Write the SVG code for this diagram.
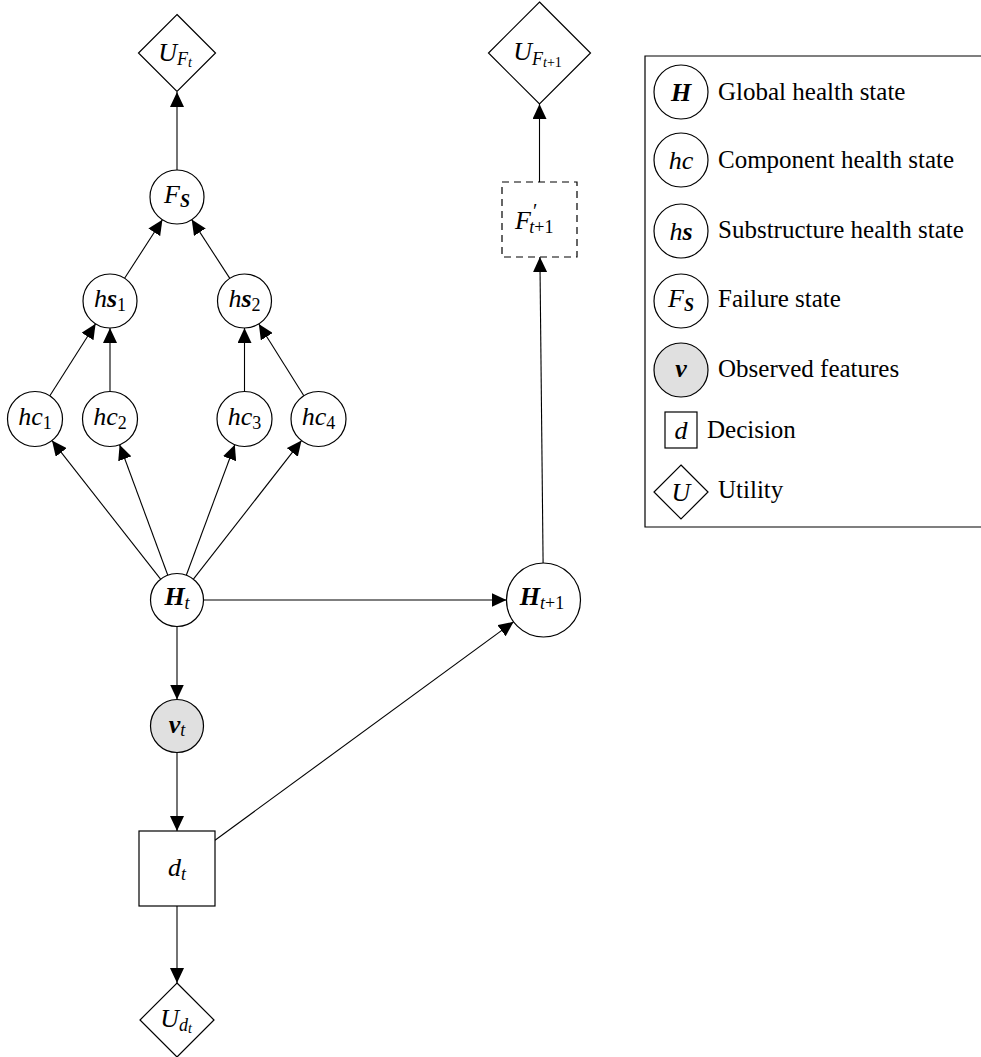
<svg xmlns="http://www.w3.org/2000/svg" width="981" height="1057" viewBox="0 0 981 1057" font-family="'Liberation Serif', 'DejaVu Serif', serif">
<defs>
<marker id="arr" markerUnits="userSpaceOnUse" markerWidth="15" markerHeight="14" refX="15" refY="7" orient="auto">
<path d="M0,0 L15,7 L0,14 z" fill="#000"/>
</marker>
<style>
.n{fill:#fff;stroke:#000;stroke-width:1.2}
.obs{fill:#e0e0e0;stroke:#000;stroke-width:1.2}
.dash{fill:#fff;stroke:#000;stroke-width:1.2;stroke-dasharray:7,5}
.e{stroke:#000;stroke-width:1.1;fill:none;marker-end:url(#arr)}
text{font-family:'Liberation Serif','DejaVu Serif',serif}
.m{font-style:italic;font-size:26px;fill:#000}
.b{font-weight:bold}
.r{font-style:normal}
.s{font-size:18px}
.ss{font-size:14px}
.lt{font-size:25px;fill:#000}
</style>
</defs>
<rect width="981" height="1057" fill="#fff"/>

<g id="connectors">
<line class="e" x1="177" y1="170" x2="177" y2="92"/>
<line class="e" x1="124.6" y1="278.3" x2="162.4" y2="219.7"/>
<line class="e" x1="229.8" y1="278.4" x2="191.7" y2="219.6"/>
<line class="e" x1="49.7" y1="396" x2="95.6" y2="323.8"/>
<line class="e" x1="110" y1="391.5" x2="110" y2="328"/>
<line class="e" x1="244.5" y1="391.5" x2="244.5" y2="328"/>
<line class="e" x1="304" y1="396" x2="258.8" y2="324"/>
<line class="e" x1="160.6" y1="579.2" x2="52" y2="440.6"/>
<line class="e" x1="167.8" y1="575.2" x2="119.6" y2="444.8"/>
<line class="e" x1="186.3" y1="575.2" x2="234.8" y2="444.7"/>
<line class="e" x1="193.4" y1="579.2" x2="301.5" y2="440.6"/>
<line class="e" x1="203.5" y1="600" x2="506.5" y2="600"/>
<line class="e" x1="177" y1="626.5" x2="177" y2="699.5"/>
<line class="e" x1="177" y1="752.5" x2="177" y2="831"/>
<line class="e" x1="177" y1="906" x2="177" y2="983"/>
<line class="e" x1="215" y1="840.2" x2="513.6" y2="621.8"/>
<line class="e" x1="543.1" y1="563" x2="539.9" y2="257"/>
<line class="e" x1="539.5" y1="182" x2="539.5" y2="104"/>
</g>

<g id="UFt">
<polygon class="n" points="177,14.5 215.5,53 177,91.5 138.5,53"/>
<text class="m" x="175" y="61" text-anchor="middle">U<tspan class="s" dy="3.5">F</tspan><tspan class="ss" dy="2.5">t</tspan></text>
</g>
<g id="FS">
<circle class="n" cx="177" cy="197" r="27"/>
<text class="m" x="177" y="203" text-anchor="middle">F<tspan class="s b" dy="4">S</tspan></text>
</g>
<g id="hs1">
<circle class="n" cx="110" cy="301" r="27"/>
<text class="m" x="110" y="307" text-anchor="middle">h<tspan class="b">s</tspan><tspan class="s r" dy="4">1</tspan></text>
</g>
<g id="hs2">
<circle class="n" cx="244.5" cy="301" r="27"/>
<text class="m" x="244.5" y="307" text-anchor="middle">h<tspan class="b">s</tspan><tspan class="s r" dy="4">2</tspan></text>
</g>
<g id="hc1">
<circle class="n" cx="35" cy="419" r="27.5"/>
<text class="m" x="35" y="425" text-anchor="middle">hc<tspan class="s r" dy="4">1</tspan></text>
</g>
<g id="hc2">
<circle class="n" cx="110" cy="419" r="27.5"/>
<text class="m" x="110" y="425" text-anchor="middle">hc<tspan class="s r" dy="4">2</tspan></text>
</g>
<g id="hc3">
<circle class="n" cx="244.5" cy="419" r="27.5"/>
<text class="m" x="244.5" y="425" text-anchor="middle">hc<tspan class="s r" dy="4">3</tspan></text>
</g>
<g id="hc4">
<circle class="n" cx="318.5" cy="419" r="27.5"/>
<text class="m" x="318.5" y="425" text-anchor="middle">hc<tspan class="s r" dy="4">4</tspan></text>
</g>
<g id="Ht">
<circle class="n" cx="177" cy="600" r="26.5"/>
<text class="m" x="177" y="605" text-anchor="middle"><tspan class="b">H</tspan><tspan class="s" dy="4">t</tspan></text>
</g>
<g id="nut">
<circle class="obs" cx="177" cy="726" r="26.5"/>
<text class="m" x="177" y="733" text-anchor="middle"><tspan class="b">ν</tspan><tspan class="s" dy="3">t</tspan></text>
</g>
<g id="dt">
<rect class="n" x="139" y="831" width="76" height="75"/>
<text class="m" x="177" y="876" text-anchor="middle">d<tspan class="s" dy="4">t</tspan></text>
</g>
<g id="Udt">
<polygon class="n" points="177,983 214,1020 177,1057 140,1020"/>
<text class="m" x="176" y="1027" text-anchor="middle">U<tspan class="s" dy="3.5">d</tspan><tspan class="ss" dy="2.5">t</tspan></text>
</g>
<g id="Ht1">
<circle class="n" cx="543.5" cy="600" r="37"/>
<text class="m" x="542" y="605" text-anchor="middle"><tspan class="b">H</tspan><tspan class="s" dy="4">t</tspan><tspan class="s r">+1</tspan></text>
</g>
<g id="Fprime">
<rect class="dash" x="502" y="182" width="75" height="75"/>
<text class="m" x="515" y="229">F<tspan class="r" font-size="20" dx="2" dy="-11">′</tspan><tspan class="s" dx="-8" dy="15">t</tspan><tspan class="s r">+1</tspan></text>
</g>
<g id="UFt1">
<polygon class="n" points="539.5,2 590.5,53 539.5,104 488.5,53"/>
<text class="m" x="537.5" y="60" text-anchor="middle">U<tspan class="s" dy="4.5">F</tspan><tspan class="ss" dy="2.5">t</tspan><tspan class="ss r">+1</tspan></text>
</g>

<g id="legend">
<path d="M981,56 H645 V527 H981" fill="none" stroke="#000" stroke-width="1.2"/>
<circle class="n" cx="681" cy="92" r="27"/>
<text class="m b" x="681" y="101" text-anchor="middle">H</text>
<text class="lt" x="718" y="100">Global health state</text>
<circle class="n" cx="681" cy="160" r="27"/>
<text class="m" x="681" y="169" text-anchor="middle">hc</text>
<text class="lt" x="718" y="168">Component health state</text>
<circle class="n" cx="681" cy="231" r="27"/>
<text class="m" x="681" y="240" text-anchor="middle">h<tspan class="b">s</tspan></text>
<text class="lt" x="718" y="238">Substructure health state</text>
<circle class="n" cx="681" cy="301" r="27"/>
<text class="m" x="681" y="307" text-anchor="middle">F<tspan class="s b" dy="4">S</tspan></text>
<text class="lt" x="718" y="307">Failure state</text>
<circle class="obs" cx="681" cy="370" r="27"/>
<text class="m b" x="681" y="377" text-anchor="middle">ν</text>
<text class="lt" x="718" y="377">Observed features</text>
<rect class="n" x="665" y="412" width="32" height="36"/>
<text class="m" x="681" y="439" text-anchor="middle">d</text>
<text class="lt" x="707" y="438">Decision</text>
<polygon class="n" points="681,465 708,492 681,519 654,492"/>
<text class="m" x="681" y="501" text-anchor="middle">U</text>
<text class="lt" x="718" y="498">Utility</text>
</g>
</svg>
